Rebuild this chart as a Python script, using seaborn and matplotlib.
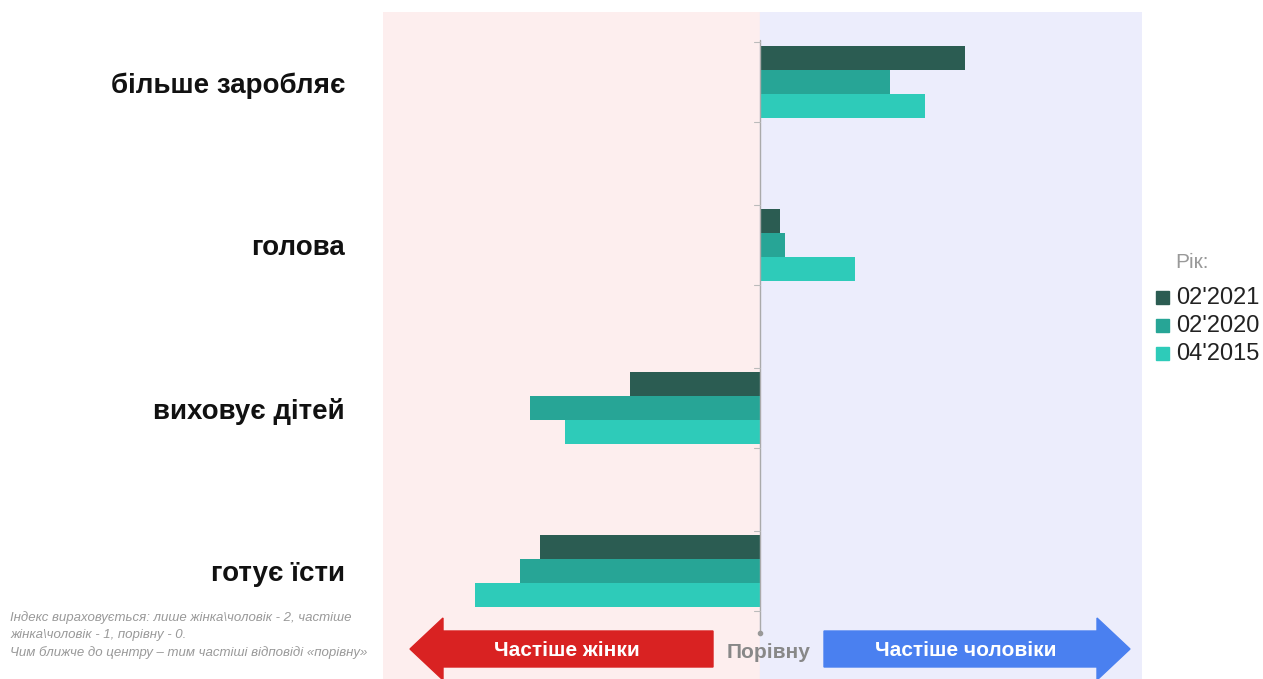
import pandas as pd
import numpy as np
import matplotlib.pyplot as plt
import seaborn as sns
from matplotlib.patches import FancyArrow

# index values (positive = men more often, negative = women)
categories = ['більше заробляє', 'голова', 'виховує дітей', 'готує їсти']
years = ["02'2021", "02'2020", "04'2015"]
v2021 = [0.41, 0.04, -0.26, -0.44]
v2020 = [0.26, 0.05, -0.46, -0.48]
v2015 = [0.33, 0.19, -0.39, -0.57]
colors = ['#2b5c52', '#27a596', '#2ecbb9']

data = pd.DataFrame({
    'category': categories * 3,
    'year': [years[0]] * 4 + [years[1]] * 4 + [years[2]] * 4,
    'value': v2021 + v2020 + v2015,
})

sns.set_style('white')
plt.rcParams['font.family'] = ['Liberation Sans', 'DejaVu Sans']

fig = plt.figure(figsize=(12.63, 6.79), dpi=100)
W, H = 1263, 679
ax = fig.add_axes([383 / W, 0, (1142 - 383) / W, (679 - 12) / H])

sns.barplot(data=data, y='category', x='value', hue='year', orient='h',
            palette=colors, width=0.44, saturation=1, ax=ax, legend=False,
            linewidth=0)

xmin, xmax = -0.754, 0.764
ax.set_xlim(xmin, xmax)
ax.set_ylim(3.663, -0.43)
ax.axvspan(xmin, 0, color='#fdeeee', zorder=0)
ax.axvspan(0, xmax, color='#ecedfc', zorder=0)
ax.set_facecolor('none')
for s in ax.spines.values():
    s.set_visible(False)
ax.set_xticks([])
ax.set_yticks([])
ax.set_xlabel('')
ax.set_ylabel('')

# centre line with small ticks
ax.plot([0, 0], [-0.26, 3.39], color='#aaaaaa', lw=1, zorder=3)
for i in range(len(categories)):
    for d in (-0.245, 0.245):
        ax.plot([-0.012, 0], [i + d, i + d], color='#bbbbbb', lw=0.8, zorder=3)
ax.plot([0], [3.38], 'o', color='#999999', ms=3, zorder=4)

# category labels
for i, c in enumerate(categories):
    ax.text(-0.05, i + 0.02, c, ha='right', va='center', fontsize=20,
            fontweight='bold', color='#111111', clip_on=False,
            transform=ax.get_yaxis_transform())

# legend
fig.text(1175 / W, 1 - 262 / H, 'Рік:', fontsize=15, color='#999999', va='center')
for k, (y, c) in enumerate(zip(years, colors)):
    yy = 1 - (298 + 28 * k) / H
    fig.patches.append(plt.Rectangle((1156 / W, yy - 6 / H), 13 / W, 13 / H,
                                     transform=fig.transFigure, color=c))
    fig.text(1176 / W, yy, y, fontsize=17, color='#222222', va='center')

# arrows
def arrow(x0, x1, color):
    y = 1 - 649 / H
    fig.patches.append(FancyArrow(x0 / W, y, (x1 - x0) / W, 0, width=36 / H,
                                  head_width=62 / H, head_length=33 / W,
                                  length_includes_head=True, color=color,
                                  transform=fig.transFigure))

arrow(713, 410, '#d92222')
arrow(824, 1130, '#4a80f0')
fig.text(567 / W, 1 - 650 / H, 'Частіше жінки', ha='center', va='center',
         fontsize=15, fontweight='bold', color='white')
fig.text(966 / W, 1 - 650 / H, 'Частіше чоловіки', ha='center', va='center',
         fontsize=15, fontweight='bold', color='white')
fig.text(769 / W, 1 - 652 / H, 'Порівну', ha='center', va='center',
         fontsize=15, fontweight='bold', color='#888888')

# footnote
note = ('Індекс вираховується: лише жінка\\чоловік - 2, частіше\n'
        'жінка\\чоловік - 1, порівну - 0.\n'
        'Чим ближче до центру – тим частіші відповіді «порівну»')
fig.text(10 / W, 1 - 611 / H, note, fontsize=9.5, style='italic',
         color='#999999', va='top', linespacing=1.55)

fig.savefig('out.png', dpi=100)
